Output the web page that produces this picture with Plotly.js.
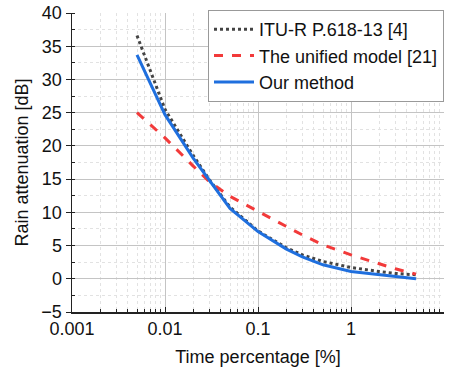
<!DOCTYPE html>
<html>
<head>
<meta charset="utf-8">
<script src="https://cdn.plot.ly/plotly-3.0.1.min.js"></script>
<style>html,body{margin:0;padding:0;background:#fff;}#chart{width:454px;height:373px;}</style>
</head>
<body>
<div id="chart"></div>
<script>
const timePct = [0.005, 0.01, 0.02, 0.03, 0.05, 0.1, 0.2, 0.3, 0.5, 1, 2, 3, 5];
const ituValues = [36.6, 25.5, 18.6, 14.9, 10.8, 7.2, 4.7, 3.6, 2.6, 1.7, 1.1, 0.8, 0.6];
const unifiedValues = [25.0, 21.2, 17.0, 14.6, 12.4, 10.1, 7.9, 6.6, 5.1, 3.6, 2.2, 1.5, 0.7];
const ourValues = [33.7, 24.7, 18.2, 14.8, 10.6, 7.1, 4.5, 3.3, 2.1, 1.1, 0.6, 0.35, 0.0];
const xTickVals = [0.001, 0.01, 0.1, 1, 10];
const xTickText = ["0.001", "0.01", "0.1", "1", "10"];
const seriesNames = ["ITU-R P.618-13 [4]", "The unified model [21]", "Our method"];

// minor log ticks: 2..9 within each decade
const xMinorVals = [];
for (let d = 0; d < xTickVals.length - 1; d++) {
  for (let k = 2; k <= 9; k++) xMinorVals.push(xTickVals[d] * k);
}

const traces = [
  {x: timePct, y: ituValues, name: seriesNames[0], mode: "lines", type: "scatter",
   line: {color: "#444444", width: 3, dash: "dot"}},
  {x: timePct, y: unifiedValues, name: seriesNames[1], mode: "lines", type: "scatter",
   line: {color: "#f23a3a", width: 3, dash: "dash"}},
  {x: timePct, y: ourValues, name: seriesNames[2], mode: "lines", type: "scatter",
   line: {color: "#1f6fde", width: 3}}
];

const fam = "Liberation Sans, Arial, sans-serif";
const txt = "#111";

const layout = {
  width: 454, height: 373,
  margin: {l: 72, r: 10, t: 13, b: 61},
  paper_bgcolor: "#fff", plot_bgcolor: "#fff",
  font: {family: fam, size: 18, color: txt},
  showlegend: true,
  legend: {x: 1, xanchor: "right", y: 1.01, yanchor: "top",
    bgcolor: "#fff", bordercolor: "#999", borderwidth: 1,
    font: {family: fam, size: 18, color: txt},
    tracegroupgap: 0, itemwidth: 40},
  xaxis: {
    type: "log", range: [-3, 1],
    tickmode: "array", tickvals: xTickVals, ticktext: xTickText,
    ticks: "inside", ticklen: 5, tickwidth: 1, tickcolor: "#222",
    showline: true, linecolor: "#222", linewidth: 1.5,
    showgrid: true, gridcolor: "#c4c4c4", gridwidth: 1,
    zeroline: false,
    tickfont: {family: fam, size: 18, color: txt},
    title: {text: "Time percentage [%]", font: {family: fam, size: 18, color: txt}, standoff: 12},
    minor: {tickmode: "array", tickvals: xMinorVals, ticks: "inside", ticklen: 3, tickcolor: "#222",
      showgrid: true, gridcolor: "#e2e2e2", griddash: "dot", gridwidth: 1}
  },
  yaxis: {
    range: [-5, 40], dtick: 5, tick0: 0,
    ticks: "outside", ticklen: 5, tickwidth: 1, tickcolor: "#222",
    showline: true, linecolor: "#222", linewidth: 1.5,
    showgrid: true, gridcolor: "#c4c4c4", gridwidth: 1,
    zeroline: false,
    tickfont: {family: fam, size: 18, color: txt},
    title: {text: "Rain attenuation [dB]", font: {family: fam, size: 18, color: txt}, standoff: 8},
    minor: {dtick: 2.5, ticks: "inside", ticklen: 3, tickcolor: "#222", showgrid: true,
      gridcolor: "#e2e2e2", griddash: "dot", gridwidth: 1}
  }
};

Plotly.newPlot("chart", traces, layout, {displayModeBar: false, staticPlot: true});
</script>
</body>
</html>
